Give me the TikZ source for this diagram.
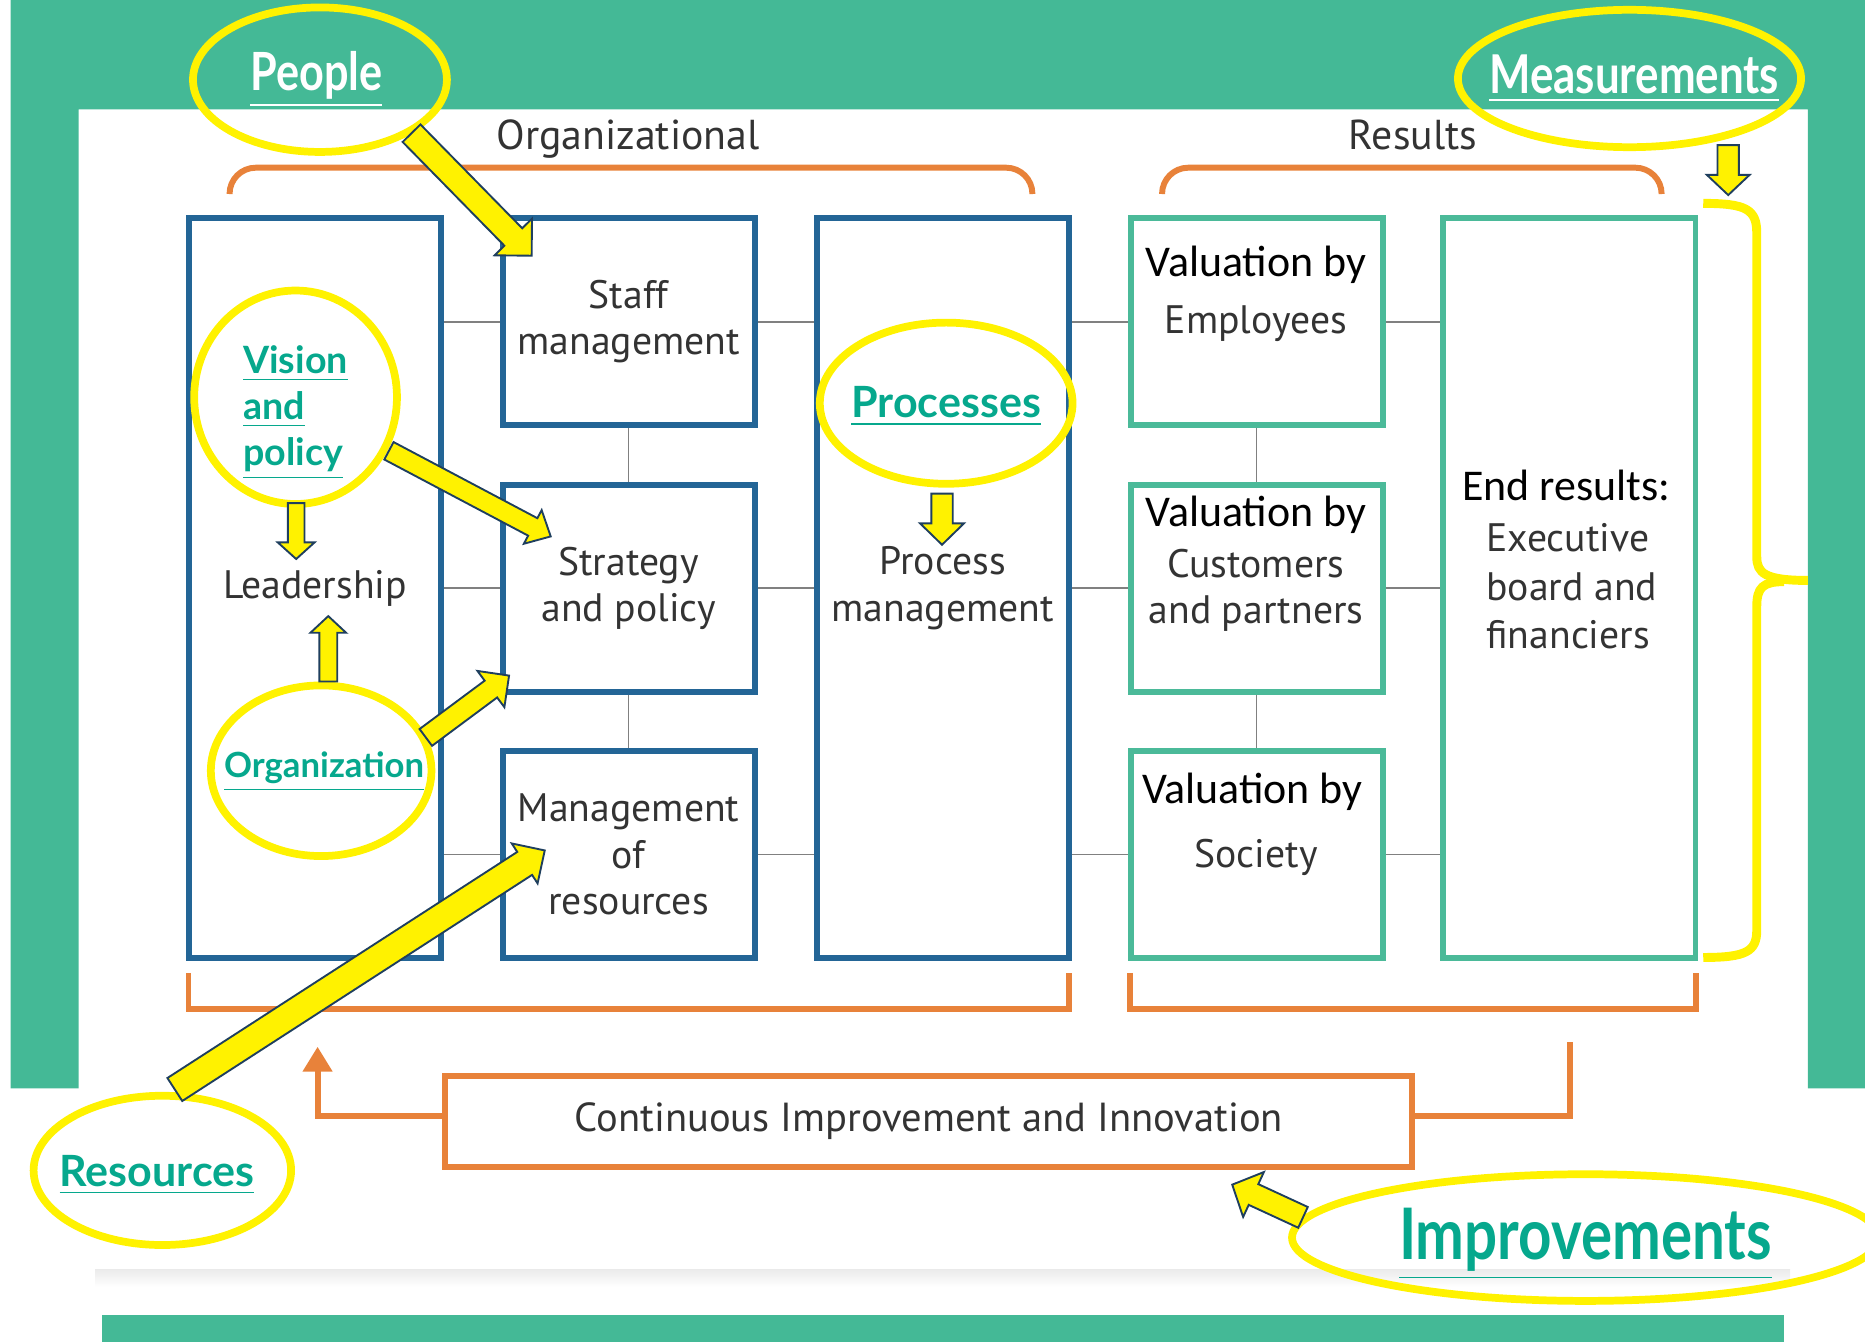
\documentclass[tikz,border=0pt]{standalone}
\usepackage{fontspec}
\setmainfont{PT Sans}
\newfontfamily\calfont{Carlito}
\newfontfamily\linkfont{Lato}
\newfontfamily\narrowlink[FakeStretch=0.82]{Lato}
\usetikzlibrary{calc,positioning,shapes.geometric,arrows.meta}

\definecolor{bggreen}{HTML}{44B996}
\definecolor{boxblue}{HTML}{236596}
\definecolor{boxteal}{HTML}{4BBA99}
\definecolor{brkorange}{HTML}{E8823A}
\definecolor{linkteal}{HTML}{06A88D}
\definecolor{bodygray}{HTML}{333333}
\definecolor{arrownavy}{HTML}{1F3F5E}

\tikzset{
  bluebox/.style={draw=boxblue, line width=0.5mm, minimum width=21.2mm, minimum height=17.4mm,
    inner sep=0pt, align=center, text=bodygray, font=\fontsize{9.5}{11.1}\selectfont},
  tealbox/.style={draw=boxteal, line width=0.5mm, minimum width=21.2mm, minimum height=17.4mm, inner sep=0pt},
  body/.style={text=bodygray, align=center, inner sep=0pt, font=\fontsize{9.5}{11.1}\selectfont},
  vhead/.style={text=black, inner sep=0pt, font=\calfont\fontsize{10.5}{12}\selectfont},
  grouplabel/.style={text=bodygray, inner sep=0pt, anchor=base, font=\fontsize{10}{12}\selectfont},
  link/.style={draw=gray, line width=0.4pt},
  brk/.style={draw=brkorange, line width=0.5mm},
  cibox/.style={draw=brkorange, line width=0.5mm, minimum width=81.3mm, minimum height=7.7mm,
    inner sep=0pt, text=bodygray, font=\fontsize{9.7}{11.1}\selectfont},
  ring/.style={ellipse, draw=yellow, line width=0.65mm, inner sep=0pt},
  linktext/.style={text=linkteal, inner sep=0pt, align=left, font=\linkfont\bfseries\fontsize{10.3}{12}\selectfont},
  yarrow/.style={fill=yellow, draw=arrownavy, line width=0.45pt, line join=miter},
  brace/.style={draw=yellow, line width=0.75mm},
}

% block arrow: tail, tip, half shaft, half head, head length (in 0.1mm)
\newcommand{\fatarrow}[5]{%
  \filldraw[yarrow] let \p1=($(#2)-(#1)$), \n1={atan2(\y1,\x1)}, \n2={veclen(\x1,\y1)-#5*0.1mm} in
    ($(#1)+({\n1+90}:{#3*0.1mm})$) -- ($(#1)+(\n1:\n2)+({\n1+90}:{#3*0.1mm})$)
    -- ($(#1)+(\n1:\n2)+({\n1+90}:{#4*0.1mm})$) -- (#2)
    -- ($(#1)+(\n1:\n2)+({\n1-90}:{#4*0.1mm})$) -- ($(#1)+(\n1:\n2)+({\n1-90}:{#3*0.1mm})$)
    -- ($(#1)+({\n1-90}:{#3*0.1mm})$) -- cycle;}

\begin{document}
\begin{tikzpicture}[x=0.1mm,y=-0.1mm]
  \useasboundingbox (0,0) rectangle (1568,1128);

  % green frame, card shadow and footer bar
  \fill[bggreen] (9,0) -- (1568,0) -- (1568,915) -- (1520,915) -- (1520,92) -- (66,92) -- (66,915) -- (9,915) -- cycle;
  \shade[top color=black!8, bottom color=white] (80,1067) rectangle (1505,1082);
  \fill[bggreen] (86,1106) rectangle (1500,1128);

  % organizational columns
  \node[bluebox, minimum height=62.2mm] (lead) at (265,494.5) {Leadership};
  \node[bluebox] (staff) at (528.5,270.5) {Staff\\management};
  \node[bluebox] (strat) at (528.5,494.5) {Strategy\\and policy};
  \node[bluebox] (mres) at (528.5,718.5) {Management\\of\\resources};
  \node[bluebox, minimum height=62.2mm] (proc) at (792.5,494.5) {Process\\management};

  % results columns
  \node[tealbox] (emp) at (1056.5,270.5) {};
  \node[tealbox] (cust) at (1056.5,494.5) {};
  \node[tealbox] (soc) at (1056.5,718.5) {};
  \node[tealbox, minimum height=62.2mm] (endres) at (1319.5,494.5) {};

  \node[vhead] (emp-h) at (1056,223) {Valuation by};
  \node[body] (emp-b) at (1056,272) {Employees};
  \node[vhead] (cust-h) at (1056,433) {Valuation by};
  \node[body] (cust-b) at (1056,496.5) {Customers\\and partners};
  \node[vhead] (soc-h) at (1053,666) {Valuation by};
  \node[body] (soc-b) at (1056,721) {Society};
  \node[vhead] (end-h) at (1317,408) {End results:};
  \node[body, align=left, anchor=west, font=\fontsize{9.5}{11.6}\selectfont] (end-b) at (1249,493) {Executive\\board and\\financiers};

  % thin links between the boxes
  \foreach \a/\b in {staff/emp, strat/cust, mres/soc} {
    \draw[link] (lead.east |- \a.west) -- (\a.west);
    \draw[link] (\a.east) -- (proc.west |- \a.east);
    \draw[link] (proc.east |- \b.west) -- (\b.west);
    \draw[link] (\b.east) -- (endres.west |- \b.east);
  }
  \draw[link] (staff.south) -- (strat.north);
  \draw[link] (strat.south) -- (mres.north);
  \draw[link] (emp.south) -- (cust.north);
  \draw[link] (cust.south) -- (soc.north);

  % group brackets
  \draw[brk, rounded corners=2.2mm] (193,162) |- (530,141) -| (868,162);
  \draw[brk, rounded corners=2.2mm] (977,162) |- (1188,141) -| (1397,162);
  \node[grouplabel] (org-lbl) at (528,126) {Organizational};
  \node[grouplabel] (res-lbl) at (1188,126) {Results};
  \draw[brk] ($(lead.south west)+(2,10)$) |- ($(proc.south east)+(-2,40)$) -- ++(0,-30);
  \draw[brk] ($(soc.south west)+(2,10)$) |- ($(endres.south east)+(-2,40)$) -- ++(0,-30);

  % improvement loop
  \node[cibox] (ci) at (781,943) {Continuous Improvement and Innovation};
  \coordinate (ci-row) at (0,938);
  \coordinate (fb-l) at (267,880);
  \coordinate (fb-r) at (1320,876);
  \draw[brk, -{Triangle[width=2.4mm,length=2.1mm]}] (ci.west |- ci-row) -| (fb-l);
  \draw[brk] (ci.east |- ci-row) -| (fb-r);

  % yellow rings and their words
  \node[ring, minimum width=21.35mm, minimum height=12.15mm] (people) at (269,67) {};
  \node[ring, minimum width=28.85mm, minimum height=11.55mm] (meas) at (1370,66) {};
  \node[ring, minimum width=17.05mm, minimum height=17.95mm] (vision) at (248.5,334) {};
  \node[ring, minimum width=18.55mm, minimum height=14.35mm] (orga) at (270,648) {};
  \node[ring, minimum width=21.25mm, minimum height=13.55mm] (procs) at (795.5,339) {};
  \node[ring, minimum width=21.65mm, minimum height=12.55mm] (resrc) at (136.5,984) {};
  \node[ring, minimum width=49.35mm, minimum height=10.65mm] (impr) at (1333,1040.5) {};

  \node[linktext, text=white, font=\narrowlink\bfseries\fontsize{12.6}{14}\selectfont] (people-t) at (266,67) {\underline{People}};
  \node[linktext, text=white, font=\narrowlink\bfseries\fontsize{12.8}{14}\selectfont] (meas-t) at (1374,66) {\underline{Measurements}};
  \node[linktext, font=\linkfont\bfseries\fontsize{9}{11}\selectfont] (vision-t) at (248.5,347) {\underline{Vision}\\\underline{and}\\\underline{policy}};
  \node[linktext, font=\linkfont\bfseries\fontsize{8.3}{10}\selectfont] (orga-t) at (272.5,649) {\underline{Organization}};
  \node[linktext] (procs-t) at (795.5,342) {\underline{Processes}};
  \node[linktext] (resrc-t) at (132,988) {\underline{Resources}};
  \node[linktext, font=\narrowlink\bfseries\fontsize{17}{19}\selectfont] (impr-t) at (1333,1046) {\underline{Improvements}};

  % brace over the results
  \draw[brace] (1432,171) .. controls (1468,171) and (1477,176) .. (1477,196) -- (1477,468)
    .. controls (1477,482) and (1484,488) .. (1520,488);
  \draw[brace] (1500,489) .. controls (1482,489) and (1477,494) .. (1477,510) -- (1477,782)
    .. controls (1477,800) and (1468,805) .. (1432,805);

  % block arrows
  \coordinate (a1-s) at (346,112);     \coordinate (a1-e) at (447,215);
  \coordinate (a2-s) at (327,379);     \coordinate (a2-e) at (463,451);
  \coordinate (a3-s) at (249,423);     \coordinate (a3-e) at (249,470);
  \coordinate (a4-s) at (276,573);     \coordinate (a4-e) at (276,518);
  \coordinate (a5-s) at (358,620);     \coordinate (a5-e) at (428,568);
  \coordinate (a6-s) at (147,916);     \coordinate (a6-e) at (458,715);
  \coordinate (a7-s) at (792,415);     \coordinate (a7-e) at (792,458);
  \coordinate (a8-s) at (1453,122);    \coordinate (a8-e) at (1453,164);
  \coordinate (a9-s) at (1095.5,1023.5); \coordinate (a9-e) at (1036,996);
  \fatarrow{a1-s}{a1-e}{10.5}{22}{22}
  \fatarrow{a2-s}{a2-e}{8.3}{16}{17}
  \fatarrow{a3-s}{a3-e}{7}{15.5}{14}
  \fatarrow{a4-s}{a4-e}{7.5}{15}{14}
  \fatarrow{a5-s}{a5-e}{8.8}{19}{19}
  \fatarrow{a6-s}{a6-e}{11.5}{20}{20}
  \fatarrow{a7-s}{a7-e}{9}{18.5}{18}
  \fatarrow{a8-s}{a8-e}{9}{18}{17}
  \fatarrow{a9-s}{a9-e}{9.6}{20.8}{19.7}
\end{tikzpicture}
\end{document}
